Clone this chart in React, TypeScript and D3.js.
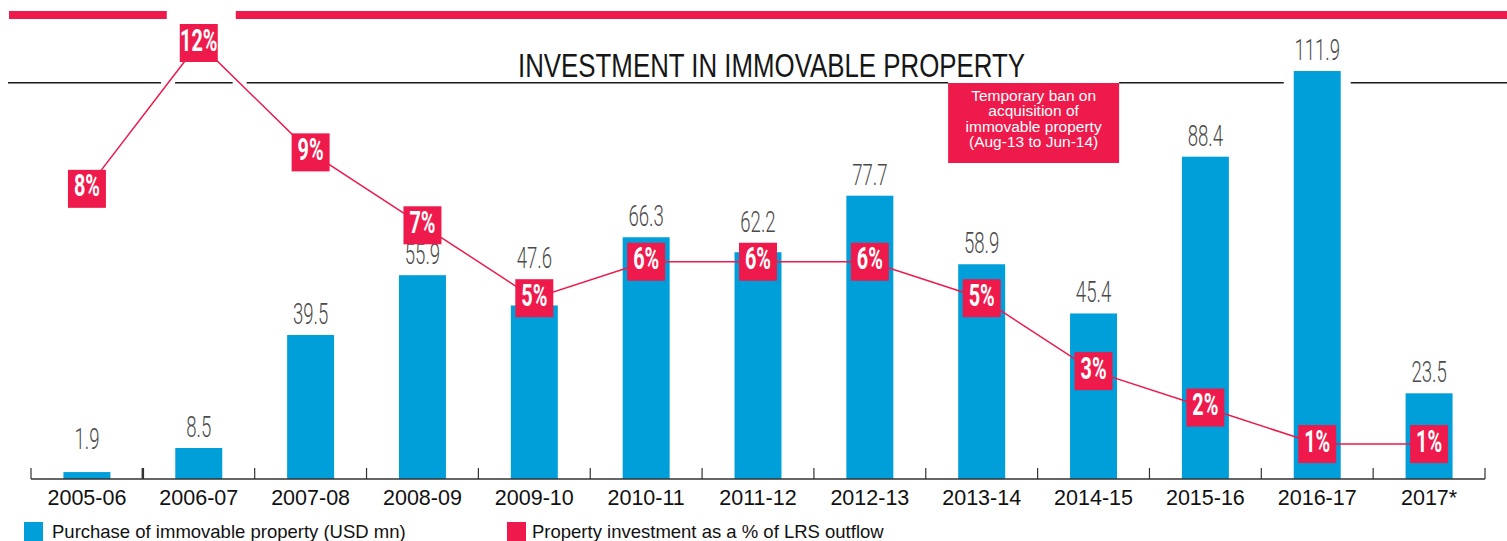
import React from 'react';
import * as d3 from 'd3';

const categories = ['2005-06', '2006-07', '2007-08', '2008-09', '2009-10', '2010-11', '2011-12', '2012-13', '2013-14', '2014-15', '2015-16', '2016-17', '2017*'];
const purchaseValues = [1.9, 8.5, 39.5, 55.9, 47.6, 66.3, 62.2, 77.7, 58.9, 45.4, 88.4, 111.9, 23.5];
const pctValues = [8, 12, 9, 7, 5, 6, 6, 6, 5, 3, 2, 1, 1];
const titleText = 'INVESTMENT IN IMMOVABLE PROPERTY';
const noteLines = ['Temporary ban on', 'acquisition of', 'immovable property', '(Aug-13 to Jun-14)'];
const legendLabels = ['Purchase of immovable property (USD mn)', 'Property investment as a % of LRS outflow'];

const W = 1507;
const H = 541;
const BLUE = '#009fda';
const RED = '#ed1a4b';
const AXIS_Y = 479;
const RULE_Y = 83;
const BOX = 38;

export default function App() {
  const x = d3.scaleBand<string>().domain(categories).range([31, 1485]).padding(0);
  const y = d3.scaleLinear().domain([0, 112]).range([AXIS_Y, AXIS_Y - 112 * 3.646]);
  const yPct = d3.scaleLinear().domain([0, 12]).range([480.5, 43]);
  const bw = x.bandwidth();
  const barW = bw * 0.42;
  const cx = (c: string) => (x(c) as number) + bw / 2;

  const pts: [number, number][] = categories.map((c, i) => [cx(c), yPct(pctValues[i])]);
  const line = d3.line();

  // value label baselines: above the bar, lifted above the % box when they would collide
  const labelYs = categories.map((c, i) => {
    const top = y(purchaseValues[i]);
    let ly = Math.min(top - 11, 449);
    const boxTop = pts[i][1] - BOX / 2;
    const boxBottom = pts[i][1] + BOX / 2;
    if (boxTop < top && boxBottom > ly - 21 + 4) ly = Math.min(ly, boxTop - 11);
    return ly;
  });

  // gaps in the thin rule below the title
  const gaps: [number, number][] = [];
  for (let i = 0; i < pts.length - 1; i++) {
    const [x0, y0] = pts[i];
    const [x1, y1] = pts[i + 1];
    if ((y0 - RULE_Y) * (y1 - RULE_Y) < 0) {
      const t = (RULE_Y - y0) / (y1 - y0);
      const xc = x0 + t * (x1 - x0);
      gaps.push([xc - 7, xc + 7]);
    }
  }
  categories.forEach((c, i) => {
    if (y(purchaseValues[i]) < RULE_Y + 2) {
      gaps.push([cx(c) - barW / 2 - 10, cx(c) + barW / 2 + 10]);
    }
  });
  const noteCx = x('2014-15') as number;
  const noteW = 171;
  const noteX = noteCx - noteW / 2 - 4;
  gaps.push([noteX, noteX + noteW]);
  gaps.sort((a, b) => a[0] - b[0]);
  const ruleSegs: [number, number][] = [];
  let start = 8;
  gaps.forEach(([a, b]) => {
    if (a > start) ruleSegs.push([start, a]);
    start = Math.max(start, b);
  });
  ruleSegs.push([start, W]);

  // top red bar with gap around highest percentage box
  const maxIdx = pctValues.indexOf(d3.max(pctValues) as number);
  const topGap: [number, number] = [cx(categories[maxIdx]) - 32, cx(categories[maxIdx]) + 37];

  const ticks = [...categories.map((c) => x(c) as number), 1485];

  return (
    <svg width={W} height={H} style={{ position: 'absolute', left: 0, top: 0, background: '#fff' }}>
      {/* top red band */}
      <rect x={9} y={11} width={topGap[0] - 9} height={8} fill={RED} />
      <rect x={topGap[1]} y={11} width={W - topGap[1]} height={8} fill={RED} />

      {/* title */}
      <text
        x={771.5}
        y={77}
        textAnchor="middle"
        fontFamily="'Liberation Sans', Arial, sans-serif"
        fontSize={33}
        fill="#161616"
        textLength={507}
        lengthAdjust="spacingAndGlyphs"
      >
        {titleText}
      </text>

      {/* rule */}
      {ruleSegs.map(([a, b], i) => (
        <g key={'r' + i}>
          <line x1={a} x2={b} y1={RULE_Y - 0.5} y2={RULE_Y - 0.5} stroke="#1a1a1a" strokeWidth={1} />
          <line x1={a} x2={b} y1={RULE_Y + 0.5} y2={RULE_Y + 0.5} stroke="#8a8a8a" strokeWidth={1} />
        </g>
      ))}

      {/* annotation */}
      <rect x={noteX} y={RULE_Y} width={noteW} height={80} fill={RED} />
      {noteLines.map((t, i) => (
        <text
          key={'n' + i}
          x={noteX + noteW / 2}
          y={101 + i * 15.4}
          textAnchor="middle"
          fontFamily="'Liberation Sans', Arial, sans-serif"
          fontSize={15.5}
          fill="#fff"
        >
          {t}
        </text>
      ))}

      {/* bars */}
      {categories.map((c, i) => (
        <rect
          key={'b' + i}
          x={cx(c) - barW / 2}
          y={y(purchaseValues[i])}
          width={barW}
          height={AXIS_Y - y(purchaseValues[i])}
          fill={BLUE}
        />
      ))}

      {/* bar value labels */}
      {categories.map((c, i) => (
        <text
          key={'v' + i}
          transform={`translate(${cx(c)},${labelYs[i]}) scale(0.63,1)`}
          textAnchor="middle"
          fontFamily="Roboto, 'Liberation Sans', sans-serif"
          fontWeight={300}
          fontSize={29.5}
          fill="#4a4a4a"
        >
          {purchaseValues[i].toFixed(1)}
        </text>
      ))}

      {/* axis */}
      <line x1={31} x2={1485} y1={AXIS_Y} y2={AXIS_Y} stroke="#333" strokeWidth={1.5} />
      {ticks.map((t, i) => (
        <line key={'t' + i} x1={t} x2={t} y1={AXIS_Y - 11} y2={AXIS_Y} stroke="#333" strokeWidth={i === 1 ? 2.5 : 1.2} />
      ))}
      {categories.map((c, i) => (
        <text
          key={'l' + i}
          x={cx(c)}
          y={505}
          textAnchor="middle"
          fontFamily="'Liberation Sans', Arial, sans-serif"
          fontSize={21.5}
          fill="#111"
        >
          {c}
        </text>
      ))}

      {/* percentage line */}
      <path d={line(pts) as string} fill="none" stroke={RED} strokeWidth={1.5} />
      {pts.map(([px, py], i) => (
        <g key={'p' + i}>
          <rect x={px - BOX / 2} y={py - BOX / 2} width={BOX} height={BOX} fill={RED} />
          <text
            transform={`translate(${px},${py + 7.5}) scale(0.64,1)`}
            textAnchor="middle"
            fontFamily="Roboto, 'Liberation Sans', sans-serif"
            fontWeight={700}
            fontSize={31}
            fill="#fff"
          >
            {pctValues[i] + '%'}
          </text>
        </g>
      ))}

      {/* legend */}
      <rect x={24} y={522} width={19} height={19} fill={BLUE} />
      <text x={52} y={538} fontFamily="'Liberation Sans', Arial, sans-serif" fontSize={18.5} fill="#111">
        {legendLabels[0]}
      </text>
      <rect x={507} y={522} width={19} height={19} fill={RED} />
      <text x={532} y={538} fontFamily="'Liberation Sans', Arial, sans-serif" fontSize={18.5} fill="#111">
        {legendLabels[1]}
      </text>
    </svg>
  );
}
